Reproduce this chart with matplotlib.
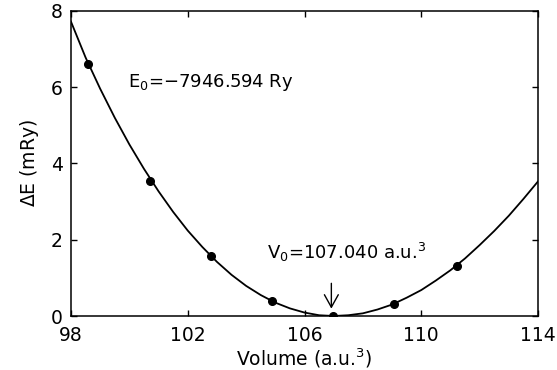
import numpy as np
import matplotlib
matplotlib.use('Agg')
import matplotlib.pyplot as plt

# calculated points (volume in a.u.^3, energy in mRy)
vol_pts = [98.59, 100.70, 102.80, 104.89, 106.99, 109.08, 111.21]
de_pts = [6.61, 3.55, 1.58, 0.39, 0.00, 0.31, 1.31]

# fitted curve
vol_fit = [98.0, 98.5, 99.0, 99.5, 100.0, 100.5, 101.0, 101.5, 102.0, 102.5,
           103.0, 103.5, 104.0, 104.5, 105.0, 105.5, 106.0, 106.5, 107.0,
           107.5, 108.0, 108.5, 109.0, 109.5, 110.0, 110.5, 111.0, 111.5,
           112.0, 112.5, 113.0, 113.5, 114.0]
de_fit = [7.72, 6.78, 5.96, 5.20, 4.50, 3.86, 3.27, 2.73, 2.24, 1.81,
          1.42, 1.08, 0.79, 0.55, 0.35, 0.20, 0.09, 0.02, 0.00,
          0.02, 0.07, 0.17, 0.30, 0.48, 0.68, 0.93, 1.20, 1.51,
          1.86, 2.23, 2.63, 3.07, 3.53]

xticks = [98, 102, 106, 110, 114]
yticks = [0, 2, 4, 6, 8]

plt.rcParams['font.family'] = 'DejaVu Sans'
plt.rcParams['mathtext.default'] = 'regular'

fig = plt.figure(figsize=(5.57, 3.70), dpi=100)
ax = fig.add_axes([71/557, 54/370, 467/557, 305/370])

ax.plot(vol_fit, de_fit, color='black', lw=1.3)
ax.plot(vol_pts, de_pts, 'o', color='black', ms=5.5)

ax.set_xlim(98, 114)
ax.set_ylim(0, 8)
ax.set_xticks(xticks)
ax.set_yticks(yticks)
ax.tick_params(direction='in', top=True, right=True, length=4, width=1,
               labelsize=13.5)
ax.tick_params(axis='x', pad=7)
ax.tick_params(axis='y', pad=6)
for s in ax.spines.values():
    s.set_linewidth(1.1)

ax.set_xlabel('Volume (a.u.$^3$)', fontsize=13.5, labelpad=1)
ax.set_ylabel(r'$\Delta$E (mRy)', fontsize=13.5, labelpad=7)

ax.text(99.95, 6.13, 'E$_0$=\u22127946.594 Ry', fontsize=13, va='center')
ax.text(104.71, 1.68, 'V$_0$=107.040 a.u.$^3$', fontsize=13, va='center')
ax.annotate('', xy=(106.92, 0.12), xytext=(106.92, 0.93),
            arrowprops=dict(arrowstyle='->, head_length=0.9, head_width=0.5',
                            color='black', lw=1))

fig.savefig('out.png', dpi=100)
